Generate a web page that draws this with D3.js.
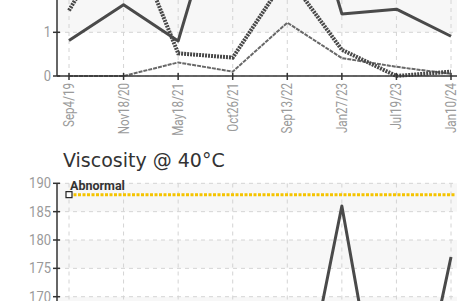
<!DOCTYPE html>
<html>
<head>
<meta charset="utf-8">
<script src="https://cdn.jsdelivr.net/npm/d3@7"></script>
<style>
  body { margin: 0; background: #fff; }
  svg { display: block; }
  .tick-label { font-family: Roboto, "Liberation Sans", sans-serif; fill: #9a9a9a; font-size: 14px; }
</style>
</head>
<body>
<div id="chart"></div>
<script>
// categories (sample dates)
const dates = ["Sep4/19", "Nov18/20", "May18/21", "Oct26/21", "Sep13/22", "Jan27/23", "Jul19/23", "Jan10/24"];

// upper chart series (only lower part is visible)
const seriesSolid  = [0.81, 1.63, 0.80, 5.0, 5.7, 1.42, 1.53, 0.91];
const seriesDotted = [1.50, 3.60, 0.52, 0.42, 2.30, 0.60, 0.00, 0.10];
const seriesThin   = [0.00, 0.00, 0.31, 0.10, 1.22, 0.41, 0.21, 0.05];
const topTicks = [0, 1, 2, 3, 4, 5, 6, 7];

// viscosity @ 40C
const viscosity = [142, 139, 141, 136, 138, 186, 132, 177];
const viscTicks = [130, 135, 140, 145, 150, 155, 160, 165, 170, 175, 180, 185, 190];
const abnormal = 188;

const W = 457, H = 301;
const axisX = 57, plotRight = 463;

const svg = d3.select("#chart").append("svg")
    .attr("width", W)
    .attr("height", H);

const x = d3.scalePoint()
    .domain(dates)
    .range([69, 451]);

function drawPanel(g, y, ticks, bandColor) {
    // alternating bands, every other interval from the bottom
    for (let i = 0; i < ticks.length - 1; i++) {
        if (i % 2 === 1) {
            g.append("rect")
                .attr("x", axisX)
                .attr("y", y(ticks[i + 1]))
                .attr("width", plotRight - axisX)
                .attr("height", y(ticks[i]) - y(ticks[i + 1]))
                .attr("fill", bandColor);
        }
    }
    // horizontal grid
    g.selectAll(".hgrid").data(ticks).enter().append("line")
        .attr("x1", axisX).attr("x2", plotRight)
        .attr("y1", d => y(d)).attr("y2", d => y(d))
        .attr("stroke", "#d4d4d4")
        .attr("stroke-dasharray", "4,4");
    // vertical grid
    const yr = y.range();
    g.selectAll(".vgrid").data(dates).enter().append("line")
        .attr("x1", d => x(d)).attr("x2", d => x(d))
        .attr("y1", yr[0]).attr("y2", yr[1])
        .attr("stroke", "#d4d4d4")
        .attr("stroke-dasharray", "4,4");
    // y axis
    g.append("line")
        .attr("x1", axisX).attr("x2", axisX)
        .attr("y1", yr[0]).attr("y2", yr[1])
        .attr("stroke", "#333").attr("stroke-width", 1.5);
    g.selectAll(".ytick").data(ticks).enter().append("line")
        .attr("x1", axisX - 4).attr("x2", axisX + 3)
        .attr("y1", d => y(d)).attr("y2", d => y(d))
        .attr("stroke", "#333").attr("stroke-width", 1.5);
    // only label the ticks that fall inside the window
    g.selectAll(".ylab").data(ticks.filter(d => y(d) > 5 && y(d) < H)).enter().append("text")
        .attr("class", "tick-label")
        .attr("transform", d => "translate(" + (axisX - 6) + "," + y(d) + ") scale(0.93,1)")
        .attr("dy", "0.36em")
        .attr("text-anchor", "end")
        .text(d => d);
}

// ---------- upper chart ----------
const y0 = d3.scaleLinear().domain([0, 7]).range([76, 76 - 7 * 43.7]);
const upper = svg.append("g");
drawPanel(upper, y0, topTicks, "#f7f7f7");

const line0 = d3.line().x((d, i) => x(dates[i])).y(d => y0(d));

upper.append("path").datum(seriesThin)
    .attr("d", line0).attr("fill", "none")
    .attr("stroke", "#686868").attr("stroke-width", 2)
    .attr("stroke-dasharray", "4,1");
upper.append("path").datum(seriesDotted)
    .attr("d", line0).attr("fill", "none")
    .attr("stroke", "#484848").attr("stroke-width", 4)
    .attr("stroke-dasharray", "2,1");
upper.append("path").datum(seriesSolid)
    .attr("d", line0).attr("fill", "none")
    .attr("stroke", "#4a4a4a").attr("stroke-width", 3)
    .attr("stroke-linejoin", "round");

// x axis
upper.append("line")
    .attr("x1", axisX).attr("x2", plotRight)
    .attr("y1", 76).attr("y2", 76)
    .attr("stroke", "#333").attr("stroke-width", 1.5);
upper.selectAll(".xtick").data(dates).enter().append("line")
    .attr("x1", d => x(d)).attr("x2", d => x(d))
    .attr("y1", 73).attr("y2", 80)
    .attr("stroke", "#333").attr("stroke-width", 1.5);
upper.selectAll(".xlab").data(dates).enter().append("text")
    .attr("class", "tick-label")
    .attr("transform", d => "translate(" + x(d) + ",83) rotate(-90) scale(0.83,1)")
    .attr("dy", "0.36em")
    .attr("text-anchor", "end")
    .text(d => d);

// ---------- viscosity chart ----------
svg.append("text")
    .attr("x", 63).attr("y", 167)
    .style("font-family", "'DejaVu Sans', Verdana, sans-serif")
    .style("font-size", "19px")
    .attr("fill", "#333")
    .text("Viscosity @ 40°C");

const y1 = d3.scaleLinear().domain([130, 190]).range([183.3 + 60 * 5.67, 183.3]);
const lower = svg.append("g");
drawPanel(lower, y1, viscTicks, "#f7f7f7");

// abnormal limit
lower.append("line")
    .attr("x1", x(dates[0])).attr("x2", plotRight - 7)
    .attr("y1", y1(abnormal)).attr("y2", y1(abnormal))
    .attr("stroke", "#f5c400").attr("stroke-width", 3)
    .attr("stroke-dasharray", "3,1.5");
lower.append("rect")
    .attr("x", x(dates[0]) - 3).attr("y", y1(abnormal) - 3)
    .attr("width", 6).attr("height", 6)
    .attr("fill", "#fff").attr("stroke", "#222").attr("stroke-width", 1.2);
lower.append("text")
    .attr("x", x(dates[0]) + 1).attr("y", y1(abnormal) - 5)
    .style("font-family", "Roboto, sans-serif")
    .style("font-size", "12.5px")
    .style("font-weight", "bold")
    .attr("fill", "#333")
    .text("Abnormal");

lower.append("path").datum(viscosity)
    .attr("d", d3.line().x((d, i) => x(dates[i])).y(d => y1(d)))
    .attr("fill", "none")
    .attr("stroke", "#4a4a4a").attr("stroke-width", 3)
    .attr("stroke-linejoin", "round");
</script>
</body>
</html>
